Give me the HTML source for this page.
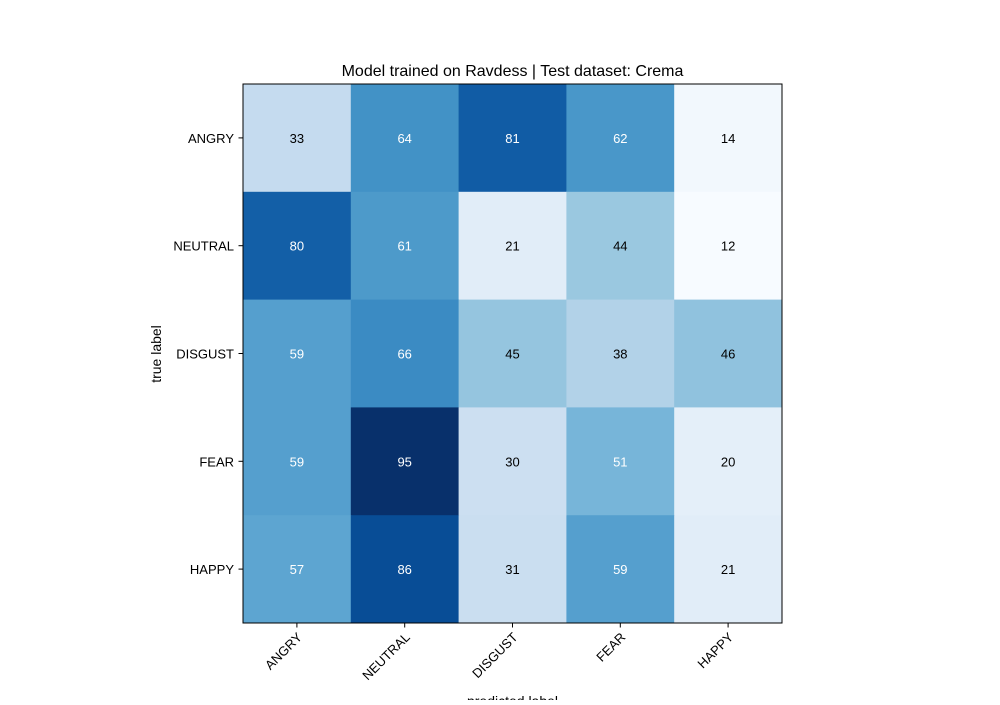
<!DOCTYPE html>
<html><head><meta charset="utf-8"><style>
body{margin:0;background:#fff;}
text{font-family:"Liberation Sans","DejaVu Sans",sans-serif;}
</style></head><body>
<svg id="chart" width="1000" height="700" xmlns="http://www.w3.org/2000/svg">
<rect width="1000" height="700" fill="#fff"/>
<text x="512.5" y="76" font-size="16" text-anchor="middle">Model trained on Ravdess | Test dataset: Crema</text>
<g id="cells"></g>
<g id="ticks"></g>
<rect x="243" y="84" width="539" height="539" fill="none" stroke="#000" stroke-width="1"/>
<text x="512.5" y="706" font-size="14" text-anchor="middle">predicted label</text>
<text transform="translate(161,354) rotate(-90)" font-size="14" text-anchor="middle">true label</text>
</svg>
<script>
const categories = ["ANGRY","NEUTRAL","DISGUST","FEAR","HAPPY"];
const row0 = [33,64,81,62,14];
const row1 = [80,61,21,44,12];
const row2 = [59,66,45,38,46];
const row3 = [59,95,30,51,20];
const row4 = [57,86,31,59,21];
const matrix = [row0,row1,row2,row3,row4];
const vmin = 12, vmax = 95;

const NS="http://www.w3.org/2000/svg";
const x0=243,y0=84,W=539,H=539,n=categories.length,cw=W/n,ch=H/n;
const xs=i=>x0+i*cw, ys=j=>y0+j*ch;
const stops=["#f7fbff","#deebf7","#c6dbef","#9ecae1","#6baed6","#4292c6","#2171b5","#08519c","#08306b"].map(h=>[1,3,5].map(k=>parseInt(h.substr(k,2),16)));
function blues(t){t=Math.max(0,Math.min(1,t))*(stops.length-1);const i=Math.min(Math.floor(t),stops.length-2),f=t-i;
 const c=stops[i].map((v,k)=>Math.round(v+(stops[i+1][k]-v)*f));return `rgb(${c.join(",")})`;}
const cells=document.getElementById("cells"),ticks=document.getElementById("ticks");
const thresh=vmax/2;
matrix.forEach((row,j)=>row.forEach((v,i)=>{
 const r=document.createElementNS(NS,"rect");
 
 
 r.setAttribute("x",xs(i));r.setAttribute("y",ys(j));r.setAttribute("width",cw+0.5);r.setAttribute("height",ch+0.5);
 r.setAttribute("fill",blues((v-vmin)/(vmax-vmin)));cells.appendChild(r);
 const t=document.createElementNS(NS,"text");
 
 
 t.setAttribute("x",xs(i)+cw/2);t.setAttribute("y",ys(j)+ch/2+5);t.setAttribute("font-size","13");
 t.setAttribute("text-anchor","middle");t.setAttribute("fill",v>thresh?"#fff":"#000");t.textContent=v;cells.appendChild(t);
}));
categories.forEach((c,k)=>{
 const cx=xs(k)+cw/2, cy=ys(k)+ch/2;
 const l1=document.createElementNS(NS,"line");
 
 
 l1.setAttribute("x1",cx);l1.setAttribute("x2",cx);l1.setAttribute("y1",623);l1.setAttribute("y2",627.5);l1.setAttribute("stroke","#000");ticks.appendChild(l1);
 const tx=document.createElementNS(NS,"text");
 
 
 tx.setAttribute("font-size","13");tx.setAttribute("text-anchor","end");
 tx.setAttribute("transform",`translate(${cx+6},${638}) rotate(-45)`);tx.textContent=c;ticks.appendChild(tx);
 const l2=document.createElementNS(NS,"line");
 
 
 l2.setAttribute("x1",238.5);l2.setAttribute("x2",243);l2.setAttribute("y1",cy);l2.setAttribute("y2",cy);l2.setAttribute("stroke","#000");ticks.appendChild(l2);
 const ty=document.createElementNS(NS,"text");
 
 
 ty.setAttribute("font-size","13");ty.setAttribute("text-anchor","end");
 ty.setAttribute("x",234);ty.setAttribute("y",cy+5);ty.textContent=c;ticks.appendChild(ty);
});
</script>
</body></html>
